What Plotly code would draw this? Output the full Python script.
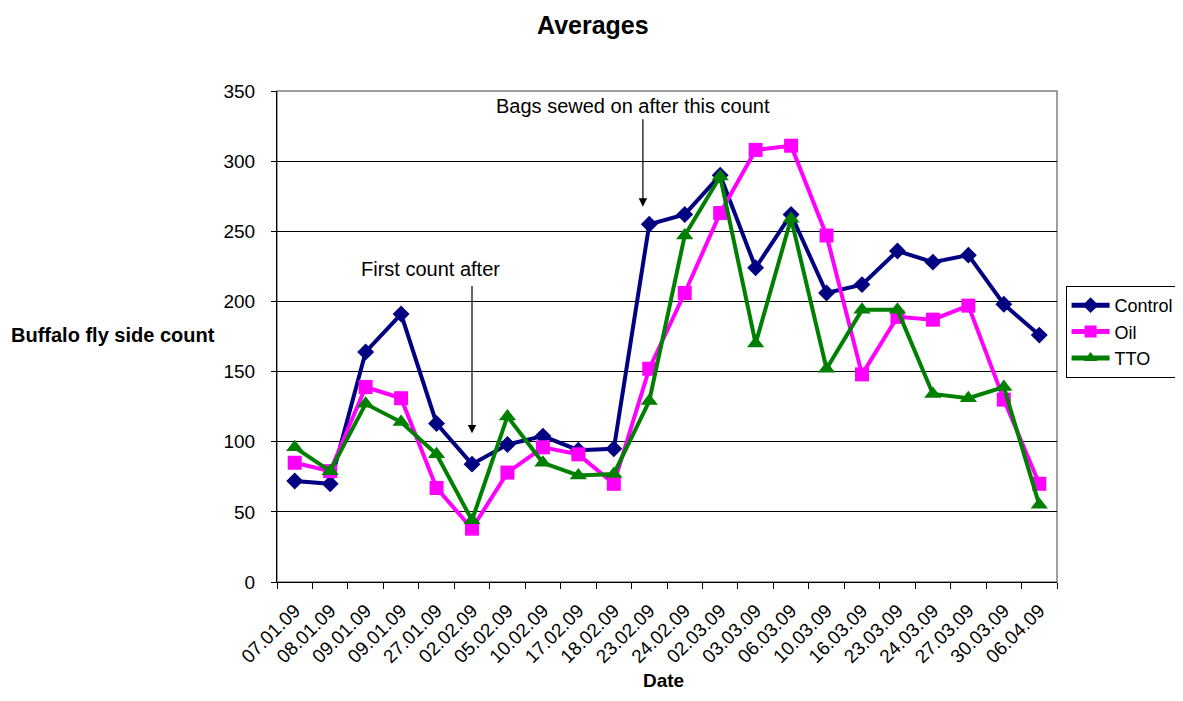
import plotly.graph_objects as go

dates = ["07.01.09", "08.01.09", "09.01.09", "09.01.09", "27.01.09", "02.02.09",
         "05.02.09", "10.02.09", "17.02.09", "18.02.09", "23.02.09", "24.02.09",
         "02.03.09", "03.03.09", "06.03.09", "10.03.09", "16.03.09", "23.03.09",
         "24.03.09", "27.03.09", "30.03.09", "06.04.09"]
control = [72, 70, 164, 191, 113, 84, 98, 104, 94, 95, 255, 262,
           290, 224, 262, 206, 212, 236, 228, 233, 198, 176]
oil = [85, 79, 139, 131, 67, 38, 78, 96, 91, 70, 152, 206,
       263, 308, 311, 247, 148, 189, 187, 197, 130, 70]
tto = [96, 79, 127, 114, 91, 44, 118, 85, 76, 77, 129, 247,
       289, 170, 259, 152, 194, 194, 134, 131, 139, 55]

x = list(range(len(dates)))
FONT = "Liberation Sans, Arial, sans-serif"

fig = go.Figure()
fig.add_trace(go.Scatter(x=x, y=control, name="Control", mode="lines+markers",
                         line=dict(color="#000080", width=4),
                         marker=dict(symbol="diamond", size=13, color="#000080")))
fig.add_trace(go.Scatter(x=x, y=oil, name="Oil", mode="lines+markers",
                         line=dict(color="#FF00FF", width=4),
                         marker=dict(symbol="square", size=14, color="#FF00FF")))
fig.add_trace(go.Scatter(x=x, y=tto, name="TTO", mode="lines+markers",
                         line=dict(color="#008000", width=4),
                         marker=dict(symbol="triangle-up", size=15, color="#008000")))

fig.update_layout(
    width=1167, height=685,
    margin=dict(l=269, r=118, t=83, b=111, autoexpand=False),
    paper_bgcolor="white", plot_bgcolor="white",
    font=dict(family=FONT, size=19, color="black"),
    showlegend=True,
    legend=dict(x=1.011, y=0.603, xanchor="left", yanchor="top",
                bordercolor="black", borderwidth=1, bgcolor="white",
                font=dict(size=18), tracegroupgap=0, itemwidth=38,
                itemsizing="constant"),
    xaxis=dict(range=[-0.5, len(dates) - 0.5], tickmode="array", tickvals=x,
               ticktext=dates, tickangle=-45, ticks="", showgrid=False,
               showline=True, linecolor="black", linewidth=1, zeroline=False,
               tickfont=dict(size=19), ticklabelstandoff=9,
               minor=dict(tickmode="array",
                          tickvals=[i - 0.5 for i in range(len(dates) + 1)],
                          ticks="outside", ticklen=6, tickcolor="black", showgrid=False)),
    yaxis=dict(range=[0, 350], tickmode="linear", tick0=0, dtick=50,
               ticks="outside", ticklen=5, tickcolor="black",
               showgrid=True, gridcolor="black", gridwidth=1,
               showline=True, linecolor="black", linewidth=1, zeroline=False,
               tickfont=dict(size=19), ticklabelstandoff=12),
    shapes=[dict(type="rect", xref="paper", yref="paper", x0=0, x1=1, y0=0, y1=1,
                 line=dict(color="#808080", width=1.5), layer="below")],
)

annotations = [
    dict(text="<b>Averages</b>", xref="paper", yref="paper", x=0.405, y=1.134,
         xanchor="center", yanchor="middle", showarrow=False, font=dict(size=25)),
    dict(text="<b>Buffalo fly side count</b>", xref="paper", yref="paper",
         x=-0.3436, y=0.503, xanchor="left", yanchor="middle", showarrow=False,
         font=dict(size=20)),
    dict(text="<b>Date</b>", xref="paper", yref="paper", x=0.495, y=-0.2255,
         xanchor="center", yanchor="bottom", showarrow=False, font=dict(size=19)),
    dict(text="First count after", xref="x", yref="y", x=3.83, y=223,
         xanchor="center", yanchor="middle", showarrow=False, font=dict(size=20)),
    dict(text="Bags sewed on after this count", xref="x", yref="y", x=9.53, y=339,
         xanchor="center", yanchor="middle", showarrow=False, font=dict(size=20)),
    dict(text="", xref="x", yref="y", x=5, y=106, axref="x", ayref="y",
         ax=5, ay=212, showarrow=True, arrowhead=2, arrowsize=1.4, arrowwidth=1.2,
         arrowcolor="black"),
    dict(text="", xref="x", yref="y", x=9.82, y=267.5, axref="x", ayref="y",
         ax=9.82, ay=331, showarrow=True, arrowhead=2, arrowsize=1.4, arrowwidth=1.2,
         arrowcolor="black"),
]
fig.update_layout(annotations=annotations)

fig.write_html("out.html")
